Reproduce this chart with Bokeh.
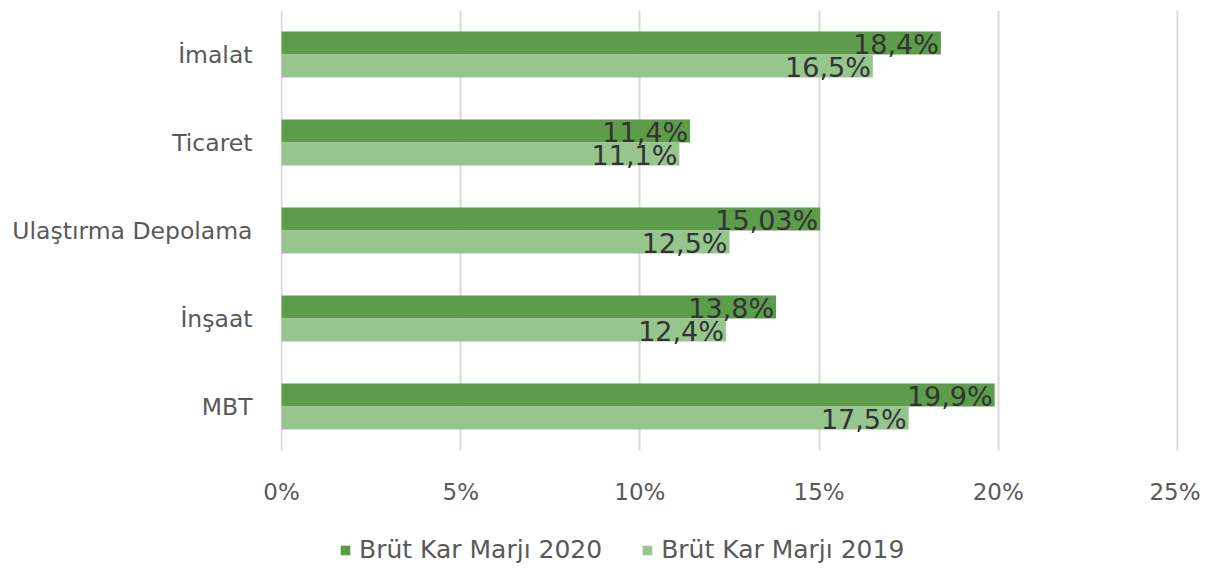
from bokeh.plotting import figure
from bokeh.layouts import column
from bokeh.models import ColumnDataSource, FactorRange, Range1d, FixedTicker, Legend, LegendItem
from bokeh.transform import dodge
from bokeh.core.properties import value
from bokeh.embed import file_html
from bokeh.resources import INLINE

categories = ["İmalat", "Ticaret", "Ulaştırma Depolama", "İnşaat", "MBT"]
margin_2020 = [18.4, 11.4, 15.03, 13.8, 19.9]
margin_2019 = [16.5, 11.1, 12.5, 12.4, 17.5]
labels_2020 = ["18,4%", "11,4%", "15,03%", "13,8%", "19,9%"]
labels_2019 = ["16,5%", "11,1%", "12,5%", "12,4%", "17,5%"]
x_ticks = [0, 5, 10, 15, 20, 25]
x_tick_labels = ["0%", "5%", "10%", "15%", "20%", "25%"]
series_names = ["Brüt Kar Marjı 2020", "Brüt Kar Marjı 2019"]

C2020 = "#5c9c4b"
C2019 = "#97c58e"
FONT = "DejaVu Sans"

src = ColumnDataSource(dict(cat=categories, v20=margin_2020, v19=margin_2019,
                            l20=labels_2020, l19=labels_2019))

p = figure(width=1200, height=520, output_backend="svg", toolbar_location=None,
           y_range=FactorRange(factors=list(reversed(categories))),
           x_range=Range1d(-0.03, 25.03))
p.min_border_left = 280
p.min_border_right = 22
p.min_border_top = 10
p.min_border_bottom = 70
p.outline_line_color = None

r20 = p.hbar(y=dodge("cat", 0.13, range=p.y_range), left=0, right="v20", height=0.26,
             source=src, fill_color=C2020, line_color=None)
r19 = p.hbar(y=dodge("cat", -0.13, range=p.y_range), left=0, right="v19", height=0.26,
             source=src, fill_color=C2019, line_color=None)

p.text(x="v20", y=dodge("cat", 0.11, range=p.y_range), text="l20", source=src,
       text_align="right", text_baseline="middle", x_offset=-2,
       text_font=value(FONT), text_font_size="27px", text_color="#333333")
p.text(x="v19", y=dodge("cat", -0.15, range=p.y_range), text="l19", source=src,
       text_align="right", text_baseline="middle", x_offset=-2,
       text_font=value(FONT), text_font_size="27px", text_color="#333333")

p.xaxis.ticker = FixedTicker(ticks=x_ticks)
p.xaxis.major_label_overrides = {t: l for t, l in zip(x_ticks, x_tick_labels)}
p.xaxis.axis_line_color = None
p.xaxis.major_tick_line_color = None
p.xaxis.minor_tick_line_color = None
p.xaxis.major_label_standoff = 22
p.xaxis.major_label_text_font = FONT
p.xaxis.major_label_text_font_size = "23px"
p.xaxis.major_label_text_color = "#595959"

p.yaxis.axis_line_color = None
p.yaxis.major_tick_line_color = None
p.yaxis.minor_tick_line_color = None
p.yaxis.major_label_standoff = 22
p.yaxis.major_label_text_font = FONT
p.yaxis.major_label_text_font_size = "23.5px"
p.yaxis.major_label_text_color = "#595959"

p.ygrid.grid_line_color = None
p.xgrid.grid_line_color = "#d9d9d9"
p.xgrid.grid_line_width = 2

# legend strip (frame is aligned with the main plot's frame by the column layout)
lf = figure(width=1200, height=48, output_backend="svg", toolbar_location=None,
            x_range=Range1d(0, 1), y_range=Range1d(0, 1))
lf.min_border_left = 0
lf.min_border_right = 0
lf.min_border_top = 0
lf.min_border_bottom = 0
lf.outline_line_color = None
lf.axis.visible = False
lf.grid.visible = False
# zero-width, off-range bars: only used to supply the legend swatches
lg20 = lf.hbar(y=-1, left="v20", right="v20", height=0.5, source=src,
               fill_color=C2020, line_color=None)
lg19 = lf.hbar(y=-1, left="v19", right="v19", height=0.5, source=src,
               fill_color=C2019, line_color=None)

legend = Legend(items=[LegendItem(label=series_names[0], renderers=[lg20], index=0),
                       LegendItem(label=series_names[1], renderers=[lg19], index=0)],
                orientation="horizontal", location=(59, 4),
                label_text_font=FONT, label_text_font_size="25px",
                label_text_color="#595959", glyph_width=12, glyph_height=12,
                label_standoff=8, spacing=39, border_line_color=None,
                background_fill_alpha=0, margin=0, padding=2)
lf.add_layout(legend, "center")

open("out.html", "w").write(file_html(column(p, lf, spacing=0), INLINE))
